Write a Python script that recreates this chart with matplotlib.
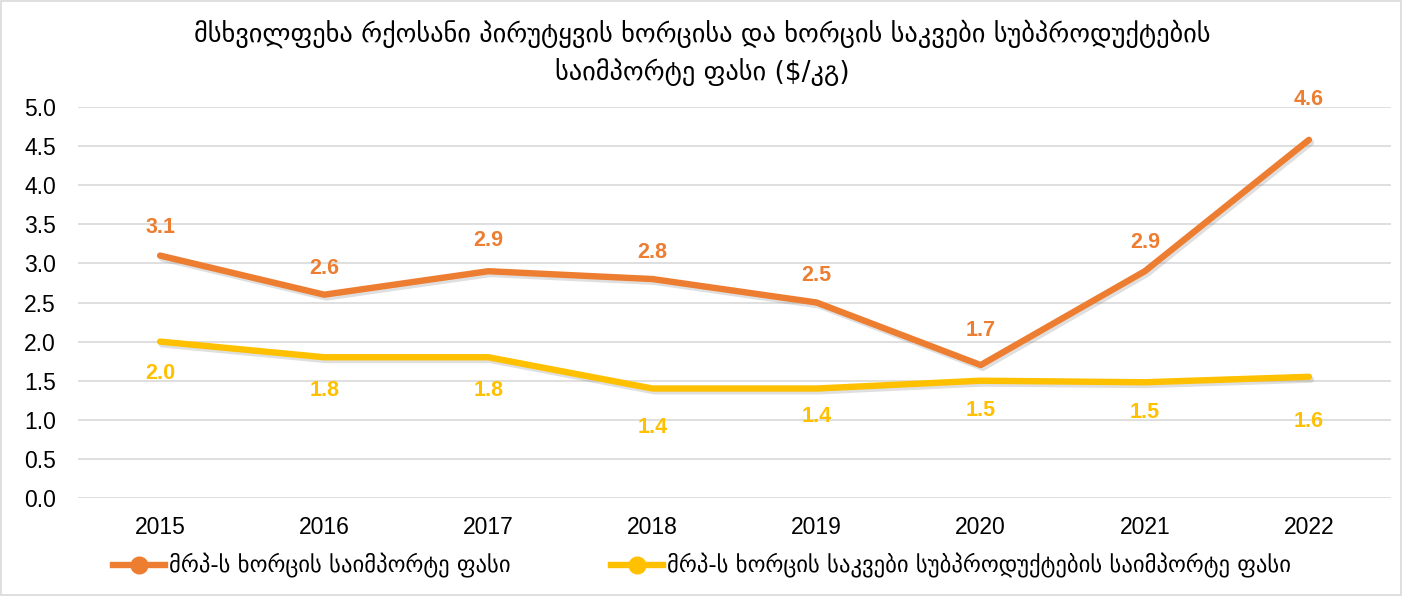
import matplotlib
matplotlib.use("Agg")
import matplotlib.pyplot as plt
import matplotlib.patheffects as pe
from matplotlib.patches import Rectangle
from matplotlib.lines import Line2D

years = ["2015", "2016", "2017", "2018", "2019", "2020", "2021", "2022"]
meat = [3.1, 2.6, 2.9, 2.8, 2.5, 1.7, 2.9, 4.58]
offal = [2.0, 1.8, 1.8, 1.4, 1.4, 1.5, 1.48, 1.55]
meat_labels = ["3.1", "2.6", "2.9", "2.8", "2.5", "1.7", "2.9", "4.6"]
offal_labels = ["2.0", "1.8", "1.8", "1.4", "1.4", "1.5", "1.5", "1.6"]
yticks = [0.0, 0.5, 1.0, 1.5, 2.0, 2.5, 3.0, 3.5, 4.0, 4.5, 5.0]

title = "მსხვილფეხა რქოსანი პირუტყვის ხორცისა და ხორცის საკვები სუბპროდუქტების\nსაიმპორტე ფასი ($/კგ)"
leg1 = "მრპ-ს ხორცის საიმპორტე ფასი"
leg2 = "მრპ-ს ხორცის საკვები სუბპროდუქტების საიმპორტე ფასი"

ORANGE = "#ED7D31"
YELLOW = "#FFC000"

# label offsets (points) from their data points
meat_off = [20, 19, 22, 19, 19.5, 25, 21, 29]
offal_off = [-23, -24, -24, -28, -20, -21.5, -21.5, -32]

fig = plt.figure(figsize=(14.04, 5.96), dpi=100)
fig.patches.append(Rectangle((0.001, 0.001), 0.997, 0.997, transform=fig.transFigure,
                             fill=False, edgecolor="#d9d9d9", linewidth=1.2))
ax = fig.add_axes([78/1404, 1 - 498/596, (1391-78)/1404, (498-107)/596])

x = list(range(len(years)))
shadow = [pe.SimpleLineShadow(offset=(1.5, -2), alpha=0.25, shadow_color="gray"), pe.Normal()]
ax.plot(x, meat, color=ORANGE, lw=4.6, solid_capstyle="round", solid_joinstyle="round",
        path_effects=shadow, zorder=3)
ax.plot(x, offal, color=YELLOW, lw=4.6, solid_capstyle="round", solid_joinstyle="round",
        path_effects=shadow, zorder=3)

for xi, v, s, o in zip(x, meat, meat_labels, meat_off):
    ax.annotate(s, (xi, v), xytext=(0, o), textcoords="offset points", ha="center", va="center",
                color=ORANGE, fontsize=15.5, fontweight="bold", family="Liberation Sans")
for xi, v, s, o in zip(x, offal, offal_labels, offal_off):
    ax.annotate(s, (xi, v), xytext=(0, o), textcoords="offset points", ha="center", va="center",
                color=YELLOW, fontsize=15.5, fontweight="bold", family="Liberation Sans")

ax.set_xlim(-0.5, len(years) - 0.5)
ax.set_ylim(0, 5.0)
ax.set_yticks(yticks)
ax.set_yticklabels([f"{t:.1f}" for t in yticks], family="Liberation Sans", fontsize=16.5)
ax.set_xticks(x)
ax.set_xticklabels(years, family="Liberation Sans", fontsize=16.5)
ax.tick_params(axis="both", length=0, colors="#000000")
ax.tick_params(axis="y", pad=16)
ax.tick_params(axis="x", pad=13)
ax.grid(axis="y", color="#d9d9d9", lw=1.2)
ax.set_axisbelow(True)
for sp in ax.spines.values():
    sp.set_visible(False)

fig.text(0.5, 1 - 53/596, title, ha="center", va="center", fontsize=19, family="DejaVu Sans",
         linespacing=1.45)

h1 = Line2D([], [], color=ORANGE, lw=4.6, marker="o", markersize=12, markerfacecolor=ORANGE)
h2 = Line2D([], [], color=YELLOW, lw=4.6, marker="o", markersize=12, markerfacecolor=YELLOW)
fig.legend([h1, h2], [leg1, leg2], loc="center", bbox_to_anchor=(0.5, 1 - 566/596), ncol=2,
           frameon=False, prop={"family": "DejaVu Sans", "size": 16.3}, handlelength=2.3,
           handletextpad=0.2, columnspacing=4.4)

fig.savefig("out.png", dpi=100)
